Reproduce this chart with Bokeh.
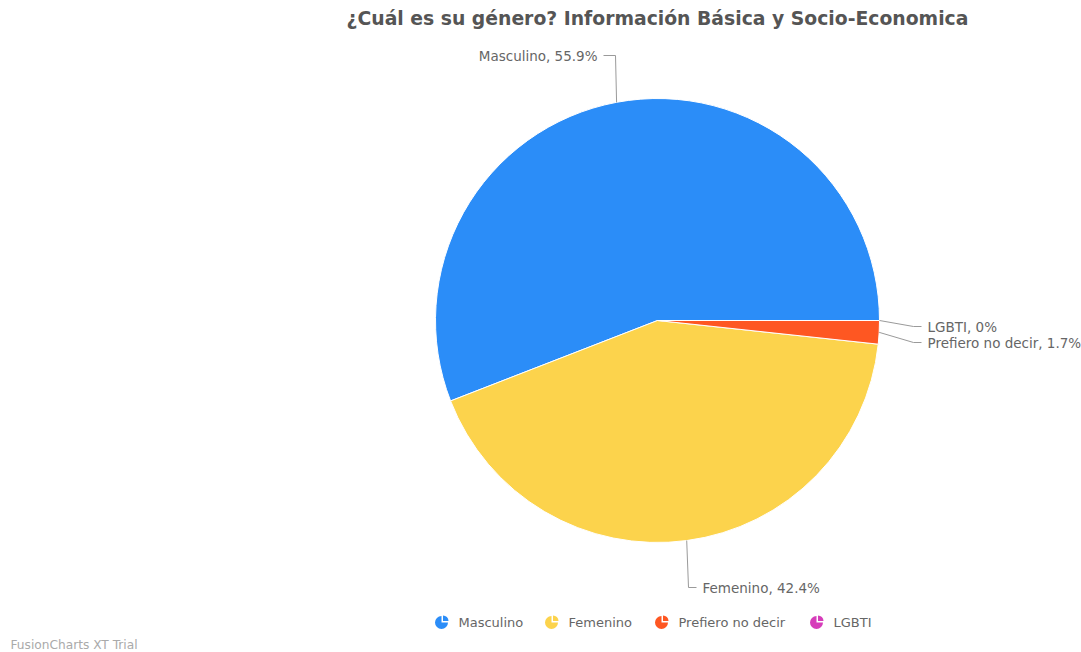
import numpy as np
from bokeh.plotting import figure
from bokeh.models import Range1d
from bokeh.embed import file_html
from bokeh.resources import INLINE
from bokeh.core.properties import value

# ---------------- data ----------------
title_text = "¿Cuál es su género? Información Básica y Socio-Economica"
categories = ["Masculino", "Femenino", "Prefiero no decir", "LGBTI"]
percentages = [55.9, 42.4, 1.7, 0.0]
colors = ["#2B8DF8", "#FCD34C", "#FE5722", "#D63DBA"]
watermark = "FusionCharts XT Trial"

# ---------------- layout ----------------
W, H = 1081, 652
CX, CY, R = 657, 320, 222            # pie centre / radius (screen px)
label_elbow = [(615, 55), (688, 587), (913, 342), (913, 326)]
label_side = ["left", "right", "right", "right"]
legend_text_x = [458, 568, 678, 833]
legend_y = 622
FONT = "DejaVu Sans"
TXT = "#666666"


def sy(y):
    return H - y


p = figure(width=W, height=H, x_range=Range1d(0, W), y_range=Range1d(0, H),
           output_backend="svg", toolbar_location=None, min_border=0)
p.axis.visible = False
p.grid.visible = False
p.outline_line_color = None
p.background_fill_color = "white"
p.border_fill_color = "white"

vals = np.array(percentages, dtype=float)
cum = np.concatenate([[0.0], np.cumsum(vals)]) / 100.0 * 2 * np.pi
starts, ends = cum[:-1], cum[1:]
mids = (starts + ends) / 2

# wedges
for c, s, e, col, v in zip(categories, starts, ends, colors, vals):
    if v <= 0:
        continue
    p.wedge(x=CX, y=sy(CY), radius=R, start_angle=s, end_angle=e,
            direction="anticlock", fill_color=col, line_color="white",
            line_width=1)

# labels with leader lines
for c, v, m, (ex_, ey_), side in zip(categories, vals, mids, label_elbow, label_side):
    px = CX + R * np.cos(m)
    py = CY - R * np.sin(m)
    d = -1 if side == "left" else 1
    hx = ex_ + d * (12 if side == "left" else 8)
    p.line(x=[px, ex_, hx], y=[sy(py), sy(ey_), sy(ey_)],
           line_color="#9a9a9a", line_width=1)
    p.text(x=[hx + d * 6], y=[sy(ey_)], text=[f"{c}, {v:g}%"],
           text_font=value(FONT), text_font_size="13.5px",
           text_color=TXT, text_baseline="middle",
           text_align="right" if side == "left" else "left")

# title
p.text(x=[CX], y=[sy(18)], text=[title_text], text_font=value(FONT),
       text_font_size="18.8px", text_font_style="bold", text_color="#555555",
       text_align="center", text_baseline="middle")

# legend
for c, col, tx in zip(categories, colors, legend_text_x):
    ix = tx - 17
    p.wedge(x=ix, y=sy(legend_y), radius=6.5, start_angle=np.pi / 2,
            end_angle=2 * np.pi, direction="anticlock", fill_color=col,
            line_color=None)
    p.wedge(x=ix + 1.5, y=sy(legend_y) + 1.5, radius=5.5, start_angle=0,
            end_angle=np.pi / 2, direction="anticlock", fill_color=col,
            line_color=None)
    p.text(x=[tx], y=[sy(legend_y)], text=[c], text_font=value(FONT),
           text_font_size="13px", text_color=TXT, text_baseline="middle")

# watermark
p.text(x=[10], y=[sy(644)], text=[watermark], text_font=value(FONT),
       text_font_size="12.2px", text_color="#aaaaaa", text_baseline="middle")

open("out.html", "w").write(file_html(p, INLINE))
